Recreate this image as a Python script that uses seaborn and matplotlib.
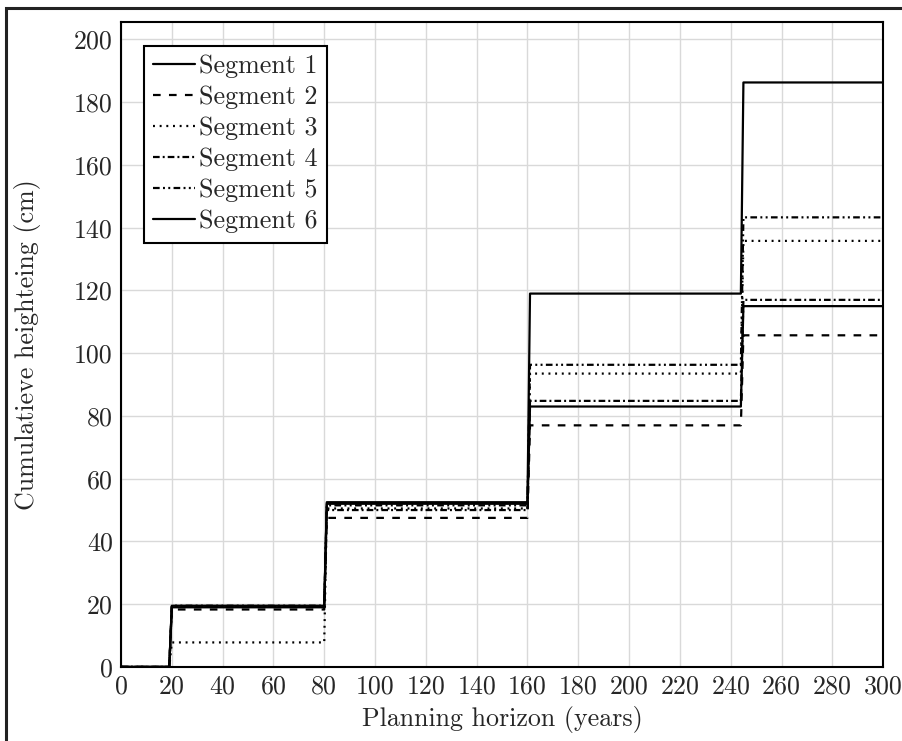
#
# Step plot of cumulative dike heightening per segment
#
import numpy as np
import pandas as pd
import matplotlib
matplotlib.use("Agg")
import matplotlib.pyplot as plt
from matplotlib.patches import Rectangle
import seaborn as sns

# ------------------------------------------------------------- #
# Data
#
segments = ['Segment 1', 'Segment 2', 'Segment 3', 'Segment 4', 'Segment 5', 'Segment 6']

# year at which each step starts (the line rises over one year)
step_years = [20, 81, 161, 245]
horizon = 300

# height after each step (cm)
seg1 = [19.0, 52.0, 83.0, 115.0]
seg2 = [18.3, 47.5, 77.0, 105.7]
seg3 = [7.8, 50.5, 93.5, 135.8]
seg4 = [19.2, 50.0, 84.8, 117.0]
seg5 = [19.5, 51.5, 96.3, 143.3]
seg6 = [19.5, 52.5, 119.0, 186.3]
levels = [seg1, seg2, seg3, seg4, seg5, seg6]

xticks = np.arange(0, 301, 20)
yticks = np.arange(0, 201, 20)

# dash patterns in points (not scaled by line width)
dash_styles = {
    'Segment 1': '',
    'Segment 2': (5.5, 6.0),
    'Segment 3': (1.4, 3.4),
    'Segment 4': (4.8, 2.2, 1.4, 2.2),
    'Segment 5': (4.8, 2.4, 1.4, 2.4, 1.4, 2.4),
    'Segment 6': '',
}

# ------------------------------------------------------------- #
# Build long table of break points
#
def step_points(years, vals, end):
    xs = [0]
    ys = [0.0]
    prev = 0.0
    for yr, v in zip(years, vals):
        xs += [yr - 1, yr]
        ys += [prev, v]
        prev = v
    xs.append(end)
    ys.append(prev)
    return xs, ys

rows = []
for name, vals in zip(segments, levels):
    xs, ys = step_points(step_years, vals, horizon)
    for x, y in zip(xs, ys):
        rows.append({'year': x, 'height': y, 'segment': name})
df = pd.DataFrame(rows)

# ------------------------------------------------------------- #
# Plot
#
sns.set_style('whitegrid')
plt.rcParams['font.family'] = ['cmr10', 'DejaVu Serif']
plt.rcParams['axes.formatter.use_mathtext'] = True
plt.rcParams['lines.scale_dashes'] = False
plt.rcParams['mathtext.fontset'] = 'cm'

myfontsize = 18.7

fig = plt.figure(figsize=(9.03, 7.41), dpi=100)
ax = fig.add_axes([0.134, 0.100, 0.844, 0.870])

sns.lineplot(data=df, x='year', y='height', hue='segment', style='segment',
             palette=['black'] * 6, dashes=dash_styles, estimator=None,
             sort=False, linewidth=1.6, ax=ax, legend=True)

ax.set_xlim(0, 300)
ax.set_ylim(0, 205.5)
ax.set_xticks(xticks)
ax.set_yticks(yticks)
ax.set_xticklabels([str(t) for t in xticks])
ax.set_yticklabels([str(t) for t in yticks])
ax.grid(True, color='#d9d9d9', linewidth=1.0)
ax.tick_params(axis='both', which='major', labelsize=myfontsize, direction='in',
               length=4, color='#aaaaaa', pad=6)
for s in ax.spines.values():
    s.set_color('black')
    s.set_linewidth(1.5)

ax.set_xlabel('Planning horizon (years)', fontsize=myfontsize, labelpad=5)
ax.set_ylabel('Cumulatieve heighteing (cm)', fontsize=myfontsize, labelpad=24)

handles, labels = ax.get_legend_handles_labels()
leg = ax.legend(handles, labels, loc='upper left', fontsize=myfontsize,
                frameon=True, fancybox=False, framealpha=1, edgecolor='black',
                handlelength=1.6, handletextpad=0.15, labelspacing=0.28,
                borderpad=0.35, borderaxespad=0.9)
leg.get_frame().set_linewidth(1.5)

# dark frame around the figure (left and top edges visible)
fig.add_artist(Rectangle((6.5 / 903, -0.05), 1.1, (1 - 7.5 / 741) + 0.05,
                         transform=fig.transFigure, fill=False,
                         edgecolor='#222222', linewidth=2.2))

plt.savefig('out.png', dpi=100)
plt.close()
